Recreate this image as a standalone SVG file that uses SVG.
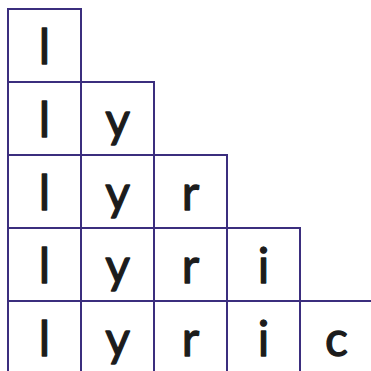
<svg xmlns="http://www.w3.org/2000/svg" width="371" height="371" viewBox="0 0 371 371">
<style>
.c{fill:#ffffff;stroke:#3b2e7e;stroke-width:2}
.t{font-family:Lato,"Open Sans","DejaVu Sans",sans-serif;font-size:48px;fill:#1c1c1c;stroke:#1c1c1c;stroke-width:1.3;stroke-linejoin:round;text-anchor:middle}
</style>
<rect width="371" height="371" fill="#ffffff"/>
<g id="row1">
<g id="r1c1"><rect class="c" x="8" y="9" width="73" height="73"/><text class="t" x="44.5" y="64">l</text></g>
</g>
<g id="row2">
<g id="r2c1"><rect class="c" x="8" y="82" width="73" height="73"/><text class="t" x="44.5" y="137">l</text></g>
<g id="r2c2"><rect class="c" x="81" y="82" width="73" height="73"/><text class="t" x="117.5" y="137">y</text></g>
</g>
<g id="row3">
<g id="r3c1"><rect class="c" x="8" y="155" width="73" height="73"/><text class="t" x="44.5" y="210">l</text></g>
<g id="r3c2"><rect class="c" x="81" y="155" width="73" height="73"/><text class="t" x="117.5" y="210">y</text></g>
<g id="r3c3"><rect class="c" x="154" y="155" width="73" height="73"/><text class="t" x="190.5" y="210">r</text></g>
</g>
<g id="row4">
<g id="r4c1"><rect class="c" x="8" y="228" width="73" height="73"/><text class="t" x="44.5" y="283">l</text></g>
<g id="r4c2"><rect class="c" x="81" y="228" width="73" height="73"/><text class="t" x="117.5" y="283">y</text></g>
<g id="r4c3"><rect class="c" x="154" y="228" width="73" height="73"/><text class="t" x="190.5" y="283">r</text></g>
<g id="r4c4"><rect class="c" x="227" y="228" width="73" height="73"/><text class="t" x="263.5" y="283">i</text></g>
</g>
<g id="row5">
<g id="r5c1"><rect class="c" x="8" y="301" width="73" height="73"/><text class="t" x="44.5" y="356">l</text></g>
<g id="r5c2"><rect class="c" x="81" y="301" width="73" height="73"/><text class="t" x="117.5" y="356">y</text></g>
<g id="r5c3"><rect class="c" x="154" y="301" width="73" height="73"/><text class="t" x="190.5" y="356">r</text></g>
<g id="r5c4"><rect class="c" x="227" y="301" width="73" height="73"/><text class="t" x="263.5" y="356">i</text></g>
<g id="r5c5"><rect class="c" x="300" y="301" width="73" height="73"/><text class="t" x="336.5" y="356">c</text></g>
</g>
<g id="connectors"/>
</svg>
